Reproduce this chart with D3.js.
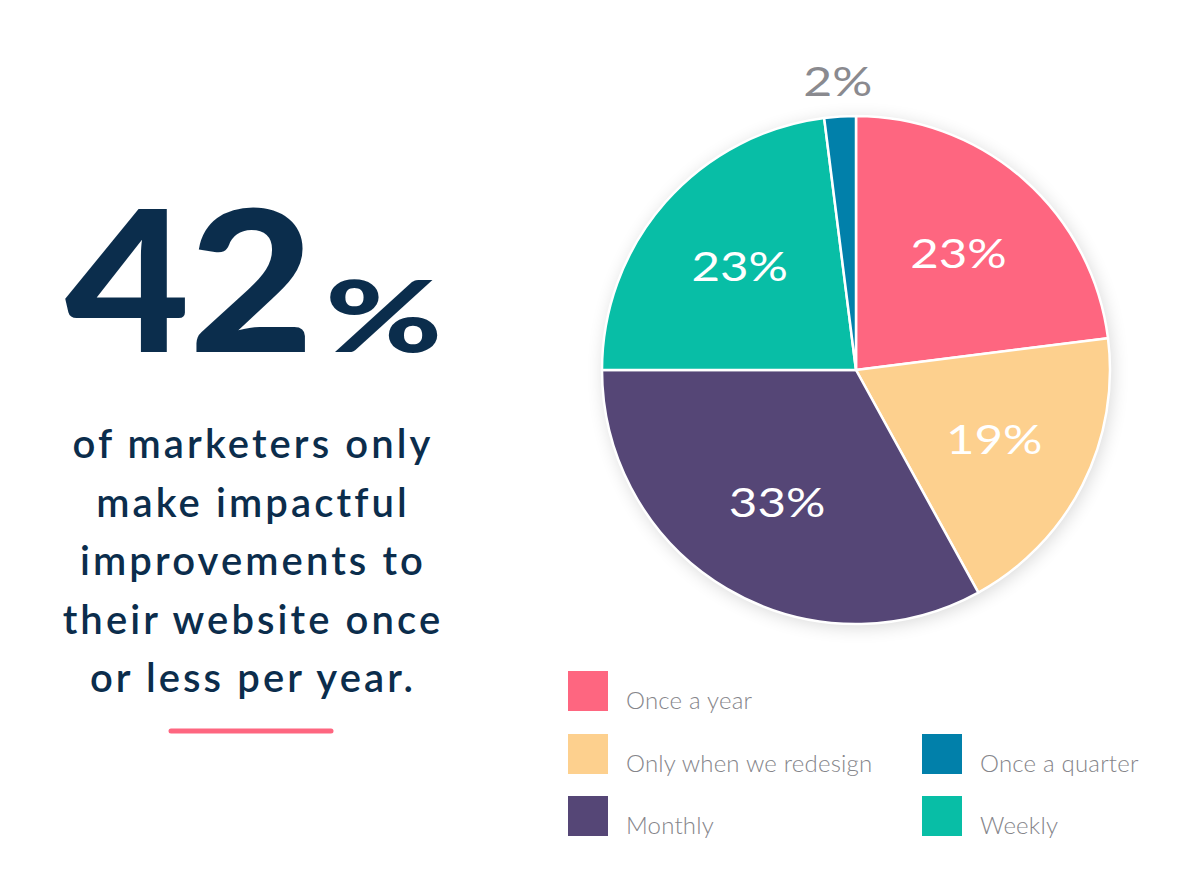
<!DOCTYPE html>
<html><head><meta charset="utf-8">
<script src="https://cdn.jsdelivr.net/npm/d3@7"></script>
<style>
html,body{margin:0;padding:0;background:#fff;}
svg{display:block;}
</style></head>
<body>
<svg id="chart" width="1200" height="888"></svg>
<script>
const categories = ["Once a year","Only when we redesign","Monthly","Weekly","Once a quarter"];
const values = [23,19,33,23,2];
const valueLabels = ["23%","19%","33%","23%","2%"];
const colors = ["#fe6680","#fdd08e","#554676","#08bea6","#0180aa"];
const legendOrder = ["Once a year","Only when we redesign","Monthly","Once a quarter","Weekly"];
const headline = "42";
const headlineUnit = "%";
const bodyLines = ["of marketers only","make impactful","improvements to","their website once","or less per year."];

const svg = d3.select("#chart");
const navy = "#0b2d4c";
const FONT = "Lato, 'Open Sans', sans-serif";

// shadow filter
const defs = svg.append("defs");
const f = defs.append("filter").attr("id","sh").attr("x","-20%").attr("y","-20%").attr("width","140%").attr("height","140%");
f.append("feGaussianBlur").attr("in","SourceAlpha").attr("stdDeviation",9);
f.append("feOffset").attr("dx",2).attr("dy",3).attr("result","b");
f.append("feComponentTransfer").append("feFuncA").attr("type","linear").attr("slope",0.16);
const m = f.append("feMerge"); m.append("feMergeNode"); m.append("feMergeNode").attr("in","SourceGraphic");

// left text
svg.append("text").attr("transform","translate(65,352) scale(1.1,1)")
  .attr("font-family",FONT).attr("font-weight",900).attr("fill",navy)
  .attr("font-size",196).attr("letter-spacing",-1).text(headline);
svg.append("text").attr("transform","translate(325,352) scale(1.42,1)")
  .attr("font-family",FONT).attr("font-weight",900).attr("fill",navy)
  .attr("font-size",100).text(headlineUnit);

svg.append("g").selectAll("text").data(bodyLines).join("text")
  .attr("x",253).attr("y",(d,i)=>458+i*58.5).attr("text-anchor","middle")
  .attr("font-family",FONT).attr("font-weight",600)
  .attr("font-size",40).attr("letter-spacing",3.1).attr("fill",navy).text(d=>d);

svg.append("line").attr("x1",171).attr("x2",331).attr("y1",731).attr("y2",731)
  .attr("stroke","#fe6680").attr("stroke-width",5).attr("stroke-linecap","round");

// pie
const cx=856, cy=370, r=254;
const color = d3.scaleOrdinal().domain(categories).range(colors);
const pie = d3.pie().sort(null).value(d=>d.v);
const data = categories.map((c,i)=>({c, v:values[i], lab:valueLabels[i]}));
const arcs = pie(data);
const arc = d3.arc().innerRadius(0).outerRadius(r);
const labelArc = d3.arc().innerRadius(155).outerRadius(155);
const g = svg.append("g").attr("transform",`translate(${cx},${cy})`);
g.append("circle").attr("r",r).attr("fill","#fff").attr("filter","url(#sh)");
g.selectAll("path").data(arcs).join("path")
  .attr("d",arc).attr("fill",d=>color(d.data.c))
  .attr("stroke","#fff").attr("stroke-width",2.5).attr("stroke-linejoin","round");

g.selectAll("text.lab").data(arcs.filter(d=>d.data.v>5)).join("text").attr("class","lab")
  .attr("transform",d=>`translate(${labelArc.centroid(d)}) scale(1.2,1)`)
  .attr("text-anchor","middle").attr("dy","0.34em")
  .attr("font-family",FONT).attr("font-weight",400)
  .attr("font-size",41).attr("fill","#fff").text(d=>d.data.lab);

const small = arcs.filter(d=>d.data.v<=5);
const outerArc = d3.arc().innerRadius(r+35).outerRadius(r+35);
g.selectAll("text.out").data(small).join("text").attr("class","out")
  .attr("transform",d=>{const p=outerArc.centroid(d); return `translate(${p[0]},${p[1]}) scale(1.22,1)`;})
  .attr("text-anchor","middle").attr("dy","0.36em")
  .attr("font-family",FONT).attr("font-weight",400)
  .attr("font-size",41).attr("fill","#8a8a8f").text(d=>d.data.lab);

// legend
const legPos = {
  "Once a year":[568,671], "Only when we redesign":[568,734], "Monthly":[568,796],
  "Once a quarter":[922,734], "Weekly":[922,796]
};
const lg = svg.append("g");
legendOrder.forEach(c=>{
  const [x,y]=legPos[c];
  lg.append("rect").attr("x",x).attr("y",y).attr("width",40).attr("height",40).attr("fill",color(c));
  lg.append("text").attr("x",x+58).attr("y",y+38).attr("font-family",FONT)
    .attr("font-weight",300).attr("font-size",24).attr("letter-spacing",0.2).attr("fill","#85858a").text(c);
});
</script>
</body></html>
